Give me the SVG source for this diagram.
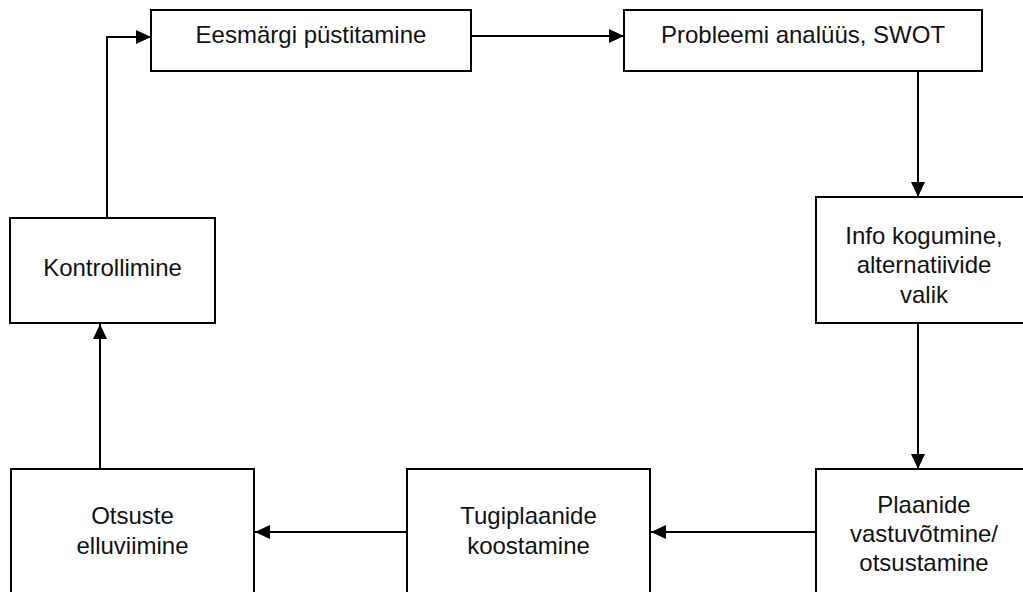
<svg xmlns="http://www.w3.org/2000/svg" width="1023" height="592" viewBox="0 0 1023 592">
  <style>
    .box { fill: #ffffff; stroke: #000000; stroke-width: 2; }
    .lbl { font-family: "Liberation Sans", Arial, sans-serif; font-size: 24px; fill: #111111; text-anchor: middle; }
    .wire { fill: none; stroke: #000000; stroke-width: 2; }
  </style>
  <defs>
    <marker id="arrow" markerUnits="userSpaceOnUse" markerWidth="16" markerHeight="15" refX="15" refY="7" orient="auto">
      <path d="M0,0 L15,7 L0,14 Z" fill="#000000"/>
    </marker>
  </defs>
  <rect width="1023" height="592" fill="#ffffff"/>

  <g id="connectors">
    <path class="wire" d="M465,36 H624" marker-end="url(#arrow)"/>
    <path class="wire" d="M918,72 V197" marker-end="url(#arrow)"/>
    <path class="wire" d="M918,323 V469" marker-end="url(#arrow)"/>
    <path class="wire" d="M816,532 H651" marker-end="url(#arrow)"/>
    <path class="wire" d="M407,532 H255" marker-end="url(#arrow)"/>
    <path class="wire" d="M100,469 V324" marker-end="url(#arrow)"/>
    <path class="wire" d="M107,218 V37 H151" marker-end="url(#arrow)"/>
  </g>

  <g id="eesmargi">
    <rect class="box" x="151" y="10" width="320" height="61"/>
    <text class="lbl" x="311" y="43">Eesmärgi püstitamine</text>
  </g>

  <g id="probleemi">
    <rect class="box" x="624" y="10" width="358" height="61"/>
    <text class="lbl" x="803" y="43">Probleemi analüüs, SWOT</text>
  </g>

  <g id="info">
    <rect class="box" x="816" y="197" width="216" height="126"/>
    <text class="lbl" x="924" y="244">Info kogumine,</text>
    <text class="lbl" x="924" y="273">alternatiivide</text>
    <text class="lbl" x="924" y="303">valik</text>
  </g>

  <g id="plaanide">
    <rect class="box" x="816" y="469" width="216" height="130"/>
    <text class="lbl" x="924" y="513">Plaanide</text>
    <text class="lbl" x="924" y="542">vastuvõtmine/</text>
    <text class="lbl" x="924" y="571">otsustamine</text>
  </g>

  <g id="tugiplaanide">
    <rect class="box" x="407" y="469" width="243" height="130"/>
    <text class="lbl" x="528.5" y="524">Tugiplaanide</text>
    <text class="lbl" x="528.5" y="554">koostamine</text>
  </g>

  <g id="otsuste">
    <rect class="box" x="11" y="469" width="243" height="130"/>
    <text class="lbl" x="132.5" y="524">Otsuste</text>
    <text class="lbl" x="132.5" y="554">elluviimine</text>
  </g>

  <g id="kontrollimine">
    <rect class="box" x="10" y="218" width="205" height="105"/>
    <text class="lbl" x="112.5" y="276">Kontrollimine</text>
  </g>
</svg>
